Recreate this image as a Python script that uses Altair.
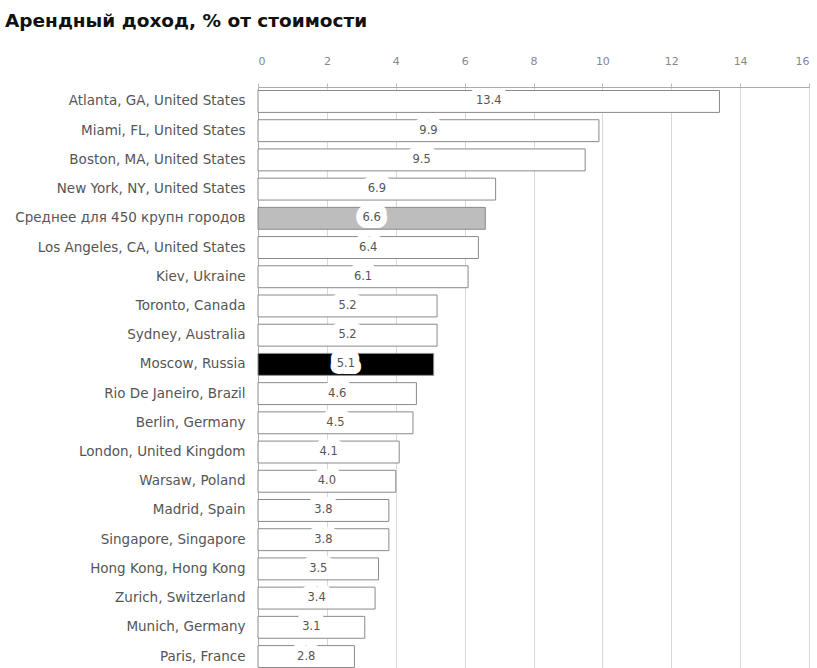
import altair as alt
import pandas as pd

cities = [
    "Atlanta, GA, United States", "Miami, FL, United States", "Boston, MA, United States",
    "New York, NY, United States", "Среднее для 450 крупн городов", "Los Angeles, CA, United States",
    "Kiev, Ukraine", "Toronto, Canada", "Sydney, Australia", "Moscow, Russia",
    "Rio De Janeiro, Brazil", "Berlin, Germany", "London, United Kingdom", "Warsaw, Poland",
    "Madrid, Spain", "Singapore, Singapore", "Hong Kong, Hong Kong", "Zurich, Switzerland",
    "Munich, Germany", "Paris, France",
]
values = [13.4, 9.9, 9.5, 6.9, 6.6, 6.4, 6.1, 5.2, 5.2, 5.1,
          4.6, 4.5, 4.1, 4.0, 3.8, 3.8, 3.5, 3.4, 3.1, 2.8]
kinds = ["city"] * 4 + ["avg"] + ["city"] * 4 + ["moscow"] + ["city"] * 10

df = pd.DataFrame({"city": cities, "value": values, "kind": kinds})
df["mid"] = df["value"] / 2
df["label"] = df["value"].map(lambda v: f"{v:.1f}")

FONT = "DejaVu Sans"

y = alt.Y("city:N", sort=cities, title=None,
          scale=alt.Scale(paddingInner=0.25, paddingOuter=0.12),
          axis=alt.Axis(labelFontSize=13.5, labelColor="#555", labelFont=FONT,
                        labelPadding=13, ticks=False, domainColor="#aaa",
                        labelLimit=300))

base = alt.Chart(df)

bars = base.mark_bar(stroke="#8a8a8a", strokeWidth=1).encode(
    x=alt.X("value:Q", title=None,
            scale=alt.Scale(domain=[0, 16], nice=False),
            axis=alt.Axis(orient="top", values=list(range(0, 17, 2)),
                          labelFontSize=11, labelColor="#888", labelFont=FONT,
                          labelPadding=17, tickColor="#bbb", tickSize=4,
                          domainColor="#aaa", gridColor="#d8d8d8")),
    y=y,
    fill=alt.Fill("kind:N", scale=alt.Scale(domain=["city", "avg", "moscow"],
                                            range=["#ffffff", "#bdbdbd", "#000000"]),
                  legend=None),
)

halo = base.mark_text(fontSize=11.5, font=FONT, stroke="white", strokeWidth=14,
                      strokeJoin="round", color="white").encode(
    x="mid:Q", y=y, text="label:N")

labels = base.mark_text(fontSize=11.5, font=FONT, color="#555").encode(
    x="mid:Q", y=y, text="label:N")

chart = (bars + halo + labels).properties(
    width=551, height=584,
    title=alt.TitleParams("Арендный доход, % от стоимости", anchor="start",
                          frame="group", font=FONT, fontSize=18.5, fontWeight="bold",
                          color="#111", dx=-253, offset=25),
    autosize=alt.AutoSizeParams(type="none"),
    padding={"left": 258, "top": 87, "right": 8, "bottom": 0},
).configure_view(stroke=None).configure_axisX(grid=True)

chart.save("out.html", embed_options={"renderer": "svg", "actions": False})
